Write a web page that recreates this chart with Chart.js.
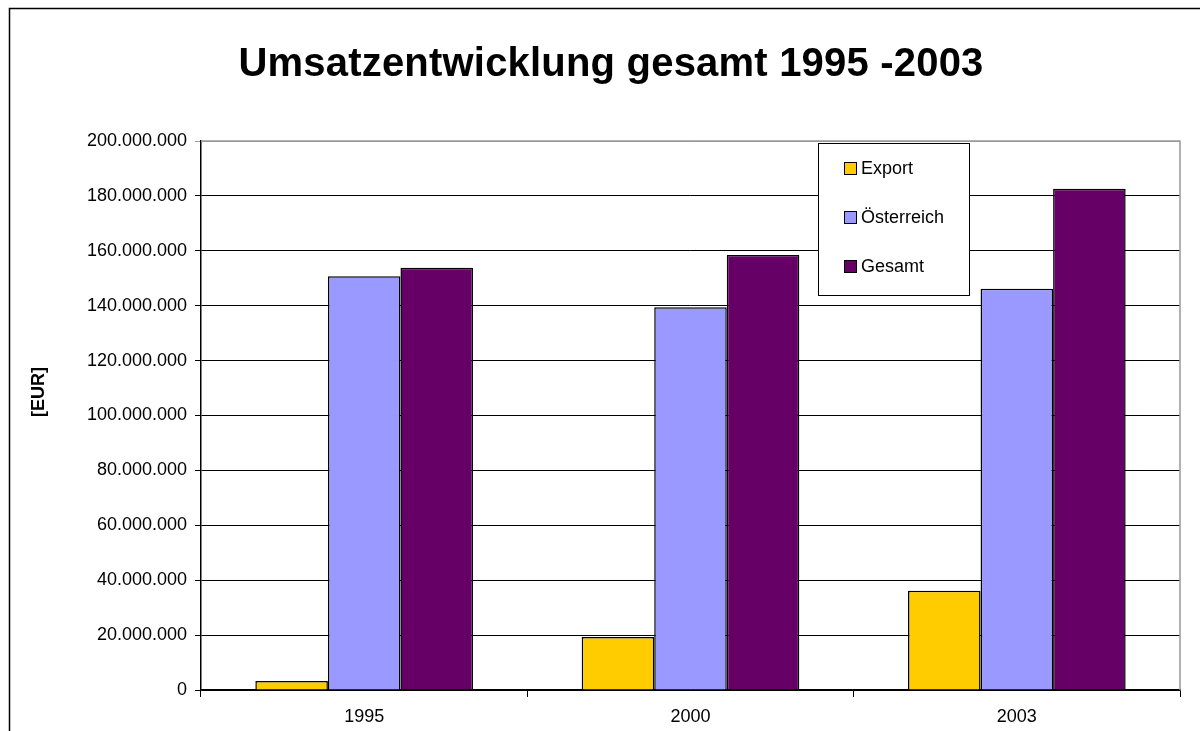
<!DOCTYPE html>
<html>
<head>
<meta charset="utf-8">
<script src="https://cdn.jsdelivr.net/npm/chart.js@4"></script>
<style>
  html, body { margin: 0; padding: 0; background: #fff; }
  canvas { display: block; }
</style>
</head>
<body>
<canvas id="chart" width="1200" height="731"></canvas>
<script>
// data
const years = ['1995', '2000', '2003'];
const exportVals = [3300000, 19300000, 36200000];
const oesterreichVals = [150700000, 139400000, 146200000];
const gesamtVals = [153800000, 158500000, 182600000];

const seriesNames = ['Export', 'Österreich', 'Gesamt'];
const seriesColors = ['#FFCC00', '#9999FF', '#660066'];

const chartTitle = 'Umsatzentwicklung gesamt 1995 -2003';
const yAxisTitle = '[EUR]';

const FONT = '"Liberation Sans", Arial, sans-serif';

function fmtDots(v) {
    return String(v).replace(/\B(?=(\d{3})+(?!\d))/g, '.');
}

// frame, title, axis title and the boxed legend inside the plot
const decorations = {
    id: 'decorations',
    beforeDraw(chart) {
        const ctx = chart.ctx;
        ctx.save();
        ctx.fillStyle = '#fff';
        ctx.fillRect(0, 0, chart.width, chart.height);
        // outer frame (runs off the right and bottom edge)
        ctx.strokeStyle = '#000';
        ctx.lineWidth = 1.5;
        ctx.beginPath();
        ctx.moveTo(9.5, chart.height + 2);
        ctx.lineTo(9.5, 8.5);
        ctx.lineTo(chart.width + 2, 8.5);
        ctx.stroke();

        // title
        ctx.fillStyle = '#000';
        ctx.font = 'bold 40px ' + FONT;
        ctx.textAlign = 'center';
        ctx.textBaseline = 'alphabetic';
        if ('letterSpacing' in ctx) ctx.letterSpacing = '0.2px';
        ctx.fillText(chartTitle, 611, 76);
        if ('letterSpacing' in ctx) ctx.letterSpacing = '0px';

        // y axis title
        ctx.font = 'bold 18px ' + FONT;
        ctx.translate(39, 392);
        ctx.rotate(-Math.PI / 2);
        ctx.textBaseline = 'middle';
        ctx.fillText(yAxisTitle, 0, 0);
        ctx.restore();
    },
    beforeDatasetsDraw(chart) {
        const ctx = chart.ctx;
        const a = chart.chartArea;
        ctx.save();
        ctx.strokeStyle = '#999';
        ctx.lineWidth = 1.5;
        ctx.beginPath();
        ctx.moveTo(a.left, a.top);
        ctx.lineTo(a.right, a.top);
        ctx.lineTo(a.right, a.bottom);
        ctx.stroke();
        ctx.restore();
    },
    afterDraw(chart) {
        const ctx = chart.ctx;
        ctx.save();
        ctx.fillStyle = '#fff';
        ctx.strokeStyle = '#000';
        ctx.lineWidth = 1;
        ctx.fillRect(818.5, 143.5, 151, 152);
        ctx.strokeRect(818.5, 143.5, 151, 152);
        ctx.font = '18px ' + FONT;
        ctx.textAlign = 'left';
        ctx.textBaseline = 'alphabetic';
        chart.data.datasets.forEach((ds, i) => {
            const base = 174 + i * 49;
            ctx.fillStyle = ds.backgroundColor;
            ctx.fillRect(844.5, base - 11.5, 12, 12);
            ctx.strokeRect(844.5, base - 11.5, 12, 12);
            ctx.fillStyle = '#000';
            ctx.fillText(ds.label, 861, base);
        });
        ctx.restore();
    }
};

const seriesValues = [exportVals, oesterreichVals, gesamtVals];

new Chart(document.getElementById('chart'), {
    type: 'bar',
    data: {
        labels: years,
        datasets: seriesNames.map((name, i) => ({
            label: name,
            data: seriesValues[i],
            backgroundColor: seriesColors[i],
            borderColor: '#000',
            borderWidth: 1.5,
            categoryPercentage: 0.667,
            barPercentage: 1.0
        }))
    },
    options: {
        responsive: false,
        animation: false,
        devicePixelRatio: 1,
        layout: { padding: { left: 9, top: 141, right: 20, bottom: 0 } },
        plugins: {
            legend: { display: false },
            title: { display: false },
            tooltip: { enabled: false }
        },
        scales: {
            x: {
                afterFit(scale) { scale.height = 41; },
                grid: {
                    drawOnChartArea: false,
                    drawTicks: true,
                    tickLength: 7,
                    color: '#000',
                    offset: true
                },
                border: { display: true, color: '#000', width: 1.5 },
                ticks: {
                    color: '#000',
                    padding: 9,
                    font: { family: FONT, size: 18 }
                }
            },
            y: {
                min: 0,
                max: 200000000,
                afterFit(scale) { scale.width = 192; },
                grid: {
                    tickLength: 6,
                    lineWidth: 1,
                    color: (c) => (c.tick && c.tick.value === 200000000) ? '#999' : '#000'
                },
                border: { display: true, color: '#000', width: 1.5 },
                ticks: {
                    stepSize: 20000000,
                    color: '#000',
                    padding: 8,
                    font: { family: FONT, size: 18 },
                    callback: (v) => fmtDots(v)
                }
            }
        }
    },
    plugins: [decorations]
});
</script>
</body>
</html>
